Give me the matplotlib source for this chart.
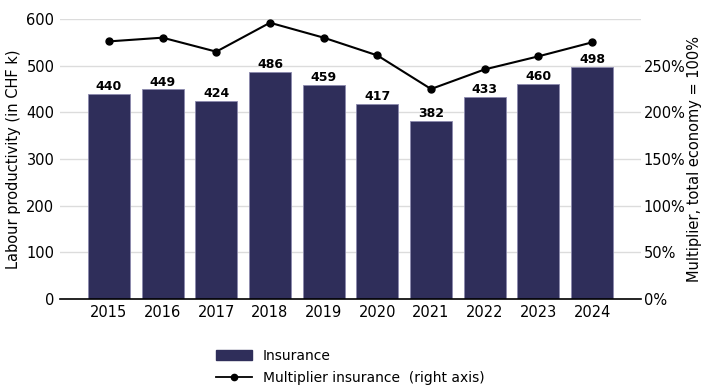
import matplotlib
matplotlib.use("Agg")
import matplotlib.pyplot as plt
from matplotlib.lines import Line2D
from matplotlib.patches import Patch
from matplotlib.ticker import FuncFormatter

years = ["2015", "2016", "2017", "2018", "2019", "2020", "2021", "2022", "2023", "2024"]
productivity = [440, 449, 424, 486, 459, 417, 382, 433, 460, 498]
multiplier = [276, 280, 265, 296, 280, 261, 225, 246, 260, 275]

bar_color = "#2f2e5a"
W, H = 703, 385

fig = plt.figure(figsize=(W / 100, H / 100), dpi=100)
ax = fig.add_axes([60 / W, 1 - 299 / H, (641 - 60) / W, (299 - 19) / H])
ax2 = ax.twinx()

x = list(range(len(years)))
ax.bar(x, productivity, width=0.78, color=bar_color,
       edgecolor="#8c8aae", linewidth=0.6, zorder=2)
for xi, v in zip(x, productivity):
    ax.text(xi, v + 2, str(v), ha="center", va="bottom",
            fontsize=9, fontweight="bold", color="black")

ax2.plot(x, multiplier, color="black", marker="o", markersize=5,
         linewidth=1.5, zorder=3)

ax.set_xlim(-0.91, len(years) - 1 + 0.91)
ax.set_ylim(0, 600)
ax2.set_ylim(0, 300)
ax.set_yticks(range(0, 601, 100))
# right axis shows no label at the top (300%)
ax2.set_yticks(range(0, 251, 50))
ax2.yaxis.set_major_formatter(FuncFormatter(lambda v, p: f"{v:.0f}%"))
ax.set_xticks(x)
ax.set_xticklabels(years)

ax.grid(axis="y", color="#dcdcdc", linewidth=1, zorder=0)
ax.set_axisbelow(True)
for a in (ax, ax2):
    for s in ("top", "left", "right", "bottom"):
        a.spines[s].set_visible(False)
ax.spines["bottom"].set_visible(True)
ax.spines["bottom"].set_color("black")
ax.spines["bottom"].set_linewidth(1.2)

ax.tick_params(axis="both", length=0, labelsize=10.5, pad=4)
ax2.tick_params(axis="y", length=0, labelsize=10.5, pad=2)

ax.set_ylabel("Labour productivity (in CHF k)", fontsize=10.5, labelpad=4)
ax2.set_ylabel("Multiplier, total economy = 100%", fontsize=10.5, labelpad=1)

handles = [
    Patch(facecolor=bar_color, edgecolor=bar_color),
    Line2D([], [], color="black", marker="o", markersize=4.5, linewidth=1.3),
]
labels = ["Insurance", "Multiplier insurance  (right axis)"]
fig.legend(handles, labels, loc="upper center", bbox_to_anchor=(350 / W, 1 - 343 / H),
           frameon=False, fontsize=10, handlelength=2.6, handletextpad=0.8,
           labelspacing=0.6, borderaxespad=0)

fig.savefig("out.png", dpi=100)
